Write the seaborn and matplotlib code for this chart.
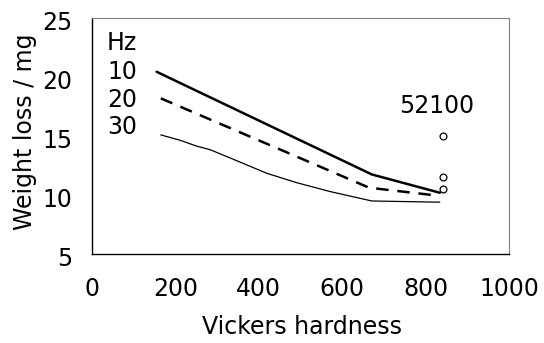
import matplotlib
matplotlib.use("Agg")
import matplotlib.pyplot as plt
import matplotlib.transforms as mtransforms
import seaborn as sns
from matplotlib.ticker import FixedLocator

# data
x_10hz = [155, 671, 834]
y_10hz = [20.4, 11.7, 10.15]
x_20hz = [165, 663, 690, 830]
y_20hz = [18.15, 10.6, 10.47, 9.9]
x_30hz = [165, 211, 251, 283, 331, 419, 491, 571, 671, 834]
y_30hz = [15.05, 14.6, 14.1, 13.8, 13.1, 11.8, 11.0, 10.25, 9.45, 9.35]
x_52100 = [841, 841, 841]
y_52100 = [14.95, 11.45, 10.45]
legend_labels = ["Hz", "10", "20", "30"]
note_label = "52100"
x_ticks = [0, 200, 400, 600, 800, 1000]
x_minor = [100, 500, 700]
y_ticks = [5, 10, 15, 20, 25]

sns.set_theme(style="white")
plt.rcParams['font.family'] = ['DejaVu Sans']
plt.rcParams['text.color'] = 'black'
plt.rcParams['axes.labelcolor'] = 'black'
plt.rcParams['xtick.color'] = 'black'
plt.rcParams['ytick.color'] = 'black'

FS = 17
fig = plt.figure(figsize=(5.44, 3.43), dpi=100)
ax = fig.add_axes([92/544, 1 - 253.5/343, (509-92)/544, (253.5-17.5)/343])

sns.lineplot(x=x_10hz, y=y_10hz, ax=ax, color="black", lw=1.8, sort=False)
sns.lineplot(x=x_20hz, y=y_20hz, ax=ax, color="black", lw=1.8, sort=False,
             linestyle=(0, (5, 3.5)))
sns.lineplot(x=x_30hz, y=y_30hz, ax=ax, color="black", lw=0.9, sort=False)
sns.scatterplot(x=x_52100, y=y_52100, ax=ax, marker="o", s=24,
                facecolor="white", edgecolor="black", linewidth=0.9, zorder=5)

ax.set_xlim(0, 1000)
ax.set_ylim(5, 25)
ax.set_xticks(x_ticks)
ax.set_yticks(y_ticks)
ax.xaxis.set_minor_locator(FixedLocator(x_minor))
ax.tick_params(axis="x", which="both", direction="out", length=5,
               width=0.8, labelsize=FS, pad=12)
ax.tick_params(axis="y", which="major", direction="out", length=5.8,
               width=0.8, labelsize=FS, pad=8.5)
# the reference has no tick mark at 15
ax.yaxis.get_major_ticks()[2].tick1line.set_visible(False)
# y tick labels sit a little below their ticks in the reference
shift = mtransforms.ScaledTranslation(0, -3/100, fig.dpi_scale_trans)
for lab in ax.get_yticklabels():
    lab.set_transform(lab.get_transform() + shift)

ax.set_xlabel("Vickers hardness", fontsize=FS)
ax.set_ylabel("Weight loss / mg", fontsize=FS)
ax.xaxis.label.set_va("baseline")
ax.xaxis.set_label_coords(0.503, -0.339)
ax.yaxis.label.set_va("center")
ax.yaxis.set_label_coords(-0.161, 0.517)

for side in ["left", "bottom"]:
    ax.spines[side].set_color("black")
    ax.spines[side].set_linewidth(1.0)
for side in ["top", "right"]:
    ax.spines[side].set_color("#808080")
    ax.spines[side].set_linewidth(0.8)

# legend-like text
ypos = [22.88, 20.42, 18.0, 15.76]
for lab, yy in zip(legend_labels, ypos):
    ax.text(36, yy, lab, fontsize=FS, ha="left", va="center")
ax.text(826, 17.47, note_label, fontsize=FS, ha="center", va="center")

fig.savefig("out.png", dpi=100)
